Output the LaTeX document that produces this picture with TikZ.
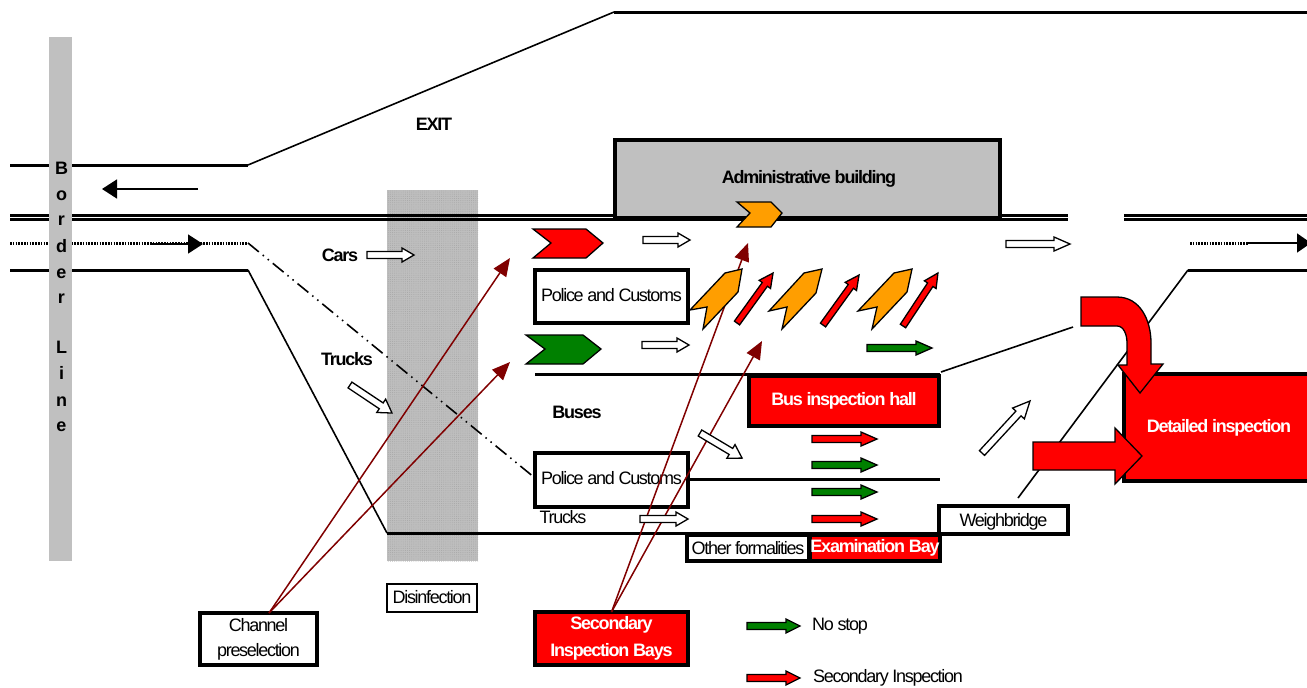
\documentclass[tikz,border=0pt]{standalone}
\usepackage{xcolor}
\usepackage{fontspec}
\setmainfont{Liberation Sans}[LetterSpace=-7.2,BoldFeatures={LetterSpace=-6.8}]
\newfontfamily\borderfont{Liberation Sans}
\usepackage{tikz}
\usetikzlibrary{arrows.meta,patterns.meta}

\definecolor{bordergray}{HTML}{C0C0C0}
\definecolor{disinfgray}{HTML}{BEBEBE}
\definecolor{bayorange}{HTML}{FF9E00}
\definecolor{leadred}{HTML}{800000}
\definecolor{passgreen}{HTML}{008000}

\def\px{.75pt}

\tikzset{
    road/.style={line width=3*\px},
    thinroad/.style={line width=1.6*\px},
    label/.style={font=\fontsize{13.5pt}{16pt}\selectfont, inner sep=0pt},
    boldlabel/.style={label, font=\fontsize{13.5pt}{16pt}\selectfont\bfseries},
    framebox/.style={draw, line width=4*\px, fill=white, outer sep=0pt, inner sep=0pt, align=center, font=\fontsize{13.5pt}{18.5pt}\selectfont},
    redbox/.style={framebox, fill=red, text=white, font=\fontsize{13.5pt}{20pt}\selectfont\bfseries},
    lead/.style={draw=leadred, line width=1.5*\px, -{Triangle[length=18*\px,width=15*\px]}},
    blocktip/.style={draw, line width=1.3*\px},
    chevron/.style={draw, line width=1.3*\px, line join=miter},
    pics/blockarr/.style args={#1/#2/#3/#4}{code={
        \path[pic actions] (0,-#2) -- ({#1-#3},-#2) -- ({#1-#3},-#4) -- (#1,0)
            -- ({#1-#3},#4) -- ({#1-#3},#2) -- (0,#2) -- cycle;
    }},
}

\begin{document}
\begin{tikzpicture}[x=\px, y=-\px]
    \useasboundingbox (0,0) rectangle (1307,687);

    % Disinfection strip
    \fill[disinfgray] (387,190) rectangle (478,561);
    \path[pattern={Dots[distance=1.6pt,radius=.35pt]}, pattern color=black!35] (387,190) rectangle (478,561);

    % Roads
    \draw[road] (10,165) -- (248,165);
    \draw[thinroad] (248,165) -- (614,12);
    \draw[road] (614,12) -- (1307,12);
    \draw[road] (10,215.5) -- (1068,215.5);
    \draw[road] (10,219.5) -- (1068,219.5);
    \draw[road] (1124,215.5) -- (1307,215.5);
    \draw[road] (1124,219.5) -- (1307,219.5);
    \draw[road] (10,270) -- (248,270);
    \draw[thinroad] (248,270) -- (387,533);
    \draw[road] (387,533) -- (938,533);
    \draw[road] (1188,270) -- (1307,270);
    \draw[thinroad] (1188,270) -- (1018,498);
    \draw[road] (535,374) -- (940,374);
    \draw[road] (690,479) -- (940,479);
    \draw[thinroad] (941,372) -- (1073,327);

    % Lanes
    \draw[road,dash pattern=on 1.2pt off .9pt] (10,243) -- (248,243);
    \draw[thinroad,dash pattern=on 14*\px off 5*\px on 1.5*\px off 5*\px on 1.5*\px off 5*\px] (248,243) -- (535,478);
    \draw[road,dash pattern=on 1.2pt off .9pt] (1190,243) -- (1248,243);
    \draw[thinroad,-{Triangle[length=14*\px,width=19*\px]}] (1248,243) -- (1311,243);
    \draw[thinroad,-{Triangle[length=15*\px,width=19*\px]}] (150,244) -- (203,244);
    \draw[thinroad,-{Triangle[length=15*\px,width=19*\px]}] (198,189) -- (102,189);

    % Border line
    \fill[bordergray] (49,37) rectangle (72,561);
    \foreach \ch/\yy in {B/174, o/200, r/225, d/252, e/278, r/303, L/353, i/379, n/406, e/431}
        \node[boldlabel, anchor=base, font=\borderfont\fontsize{13.5pt}{16pt}\selectfont\bfseries] at (61.5,\yy) {\ch};

    % Administrative building
    \node[framebox, fill=bordergray, minimum width=385*\px, minimum height=78*\px] (admin) at (807.5,178.5) {};
    \node[boldlabel] at (809,179) {Administrative building};

    % Labels
    \node[boldlabel] (exit) at (434,124) {EXIT};
    \node[boldlabel] (cars) at (340,255) {Cars};
    \node[boldlabel] (trucksup) at (347,359) {Trucks};
    \node[boldlabel] (buses) at (577,412) {Buses};
    \node[label] (truckslow) at (563,517) {Trucks};
    \node[label] (nostop) at (840,626) {No stop};
    \node[label] (secinsp) at (888,678) {Secondary Inspection};

    % Boxes
    \node[framebox, minimum width=153*\px, minimum height=53*\px] (policeup) at (611.5,296.5) {\raisebox{1.6pt}{Police and Customs}};
    \node[framebox, minimum width=153*\px, minimum height=54*\px] (policelow) at (611.5,479.5) {\raisebox{1.6pt}{Police and Customs}};
    \node[redbox, minimum width=190*\px, minimum height=50*\px] (bushall) at (844,401) {Bus inspection hall};
    \node[redbox, minimum width=190*\px, minimum height=107*\px] (detailed) at (1219,427.5) {\raisebox{.8pt}{Detailed inspection}};
    \node[framebox, text depth=0pt, minimum width=129*\px, minimum height=28*\px] (weigh) at (1003.5,520) {Weighbridge};
    \node[framebox, minimum width=122*\px, minimum height=26*\px] (other) at (748,548) {Other formalities};
    \node[redbox, minimum width=129*\px, minimum height=26*\px] (exam) at (875,548) {Examination Bay};
    \node[framebox, line width=2.5*\px, minimum width=90*\px, minimum height=28*\px] (disinf) at (432,598) {\raisebox{1.8pt}{Disinfection}};
    \node[framebox, minimum width=117*\px, minimum height=52*\px] (channel) at (258.5,639) {\raisebox{2.5pt}{Channel}\\\raisebox{2.5pt}{preselection}};
    \node[redbox, minimum width=153*\px, minimum height=53*\px] (secbays) at (611.5,638.5) {Secondary\\Inspection Bays};

    % Leaders
    \coordinate (carlane) at (510,258);
    \coordinate (trucklane) at (510,362);
    \coordinate (adminbay) at (748,243);
    \coordinate (busbay) at (762,341);
    \draw[lead] (channel.68) -- (carlane);
    \draw[lead] (channel.68) -- (trucklane);
    \draw[lead] (secbays.north) -- (adminbay);
    \draw[lead] (secbays.north) -- (busbay);

    % Chevrons
    \filldraw[chevron, fill=red] (533,229) -- (586,229) -- (603,243) -- (586,258) -- (533,258) -- (551,243) -- cycle;
    \filldraw[chevron, fill=passgreen] (526,335) -- (583,335) -- (601,349) -- (583,364) -- (526,364) -- (545,349) -- cycle;
    \filldraw[chevron, fill=bayorange] (737,202) -- (771,202) -- (782,213) -- (771,227) -- (737,227) -- (750,213) -- cycle;
    \filldraw[chevron, fill=bayorange] (690,310) -- (725,273) -- (742,269) -- (738,292) -- (703,329) -- (707,307) -- cycle;
    \filldraw[chevron, fill=bayorange] (769,311) -- (804,273) -- (822,269) -- (816,293) -- (782,329) -- (787,307) -- cycle;
    \filldraw[chevron, fill=bayorange] (858,311) -- (894,273) -- (912,269) -- (907,292) -- (872,329) -- (877,307) -- cycle;

    % White arrows
    \pic[blocktip, fill=white] at (367,255) {blockarr={47/3.5/12/7}};
    \pic[blocktip, fill=white] at (643,240) {blockarr={47/3.5/12/7}};
    \pic[blocktip, fill=white] at (642,345) {blockarr={47/3.5/12/7}};
    \pic[blocktip, fill=white] at (640,519) {blockarr={48/3.5/12/7}};
    \pic[blocktip, fill=white] at (1006,244) {blockarr={64/3.5/16/7}};
    \pic[blocktip, fill=white, rotate=-33.7] at (350,385) {blockarr={50.5/3.5/13/8}};
    \pic[blocktip, fill=white, rotate=-30.8] at (700,433) {blockarr={49/3.5/13/8}};
    \pic[blocktip, fill=white, rotate=47.3] at (982,453) {blockarr={70.8/3.5/17/8}};

    % Green and red arrows
    \pic[blocktip, fill=passgreen] at (867,348) {blockarr={65/3.5/16/7}};
    \pic[blocktip, fill=red] at (812,439) {blockarr={65/3.5/16/7}};
    \pic[blocktip, fill=passgreen] at (812,465) {blockarr={65/3.5/16/7}};
    \pic[blocktip, fill=passgreen] at (812,492) {blockarr={65/3.5/16/7}};
    \pic[blocktip, fill=red] at (812,519) {blockarr={65/3.5/16/7}};
    \pic[blocktip, fill=passgreen] at (747,626) {blockarr={53/3.5/14/7}};
    \pic[blocktip, fill=red] at (747,678) {blockarr={53/3.5/14/7}};
    \pic[blocktip, fill=red, rotate=54.2] at (737,323) {blockarr={61.6/3.2/14/7}};
    \pic[blocktip, fill=red, rotate=54.2] at (823,325) {blockarr={61.6/3.2/14/7}};
    \pic[blocktip, fill=red, rotate=56.6] at (903,326) {blockarr={63.5/3.2/14/7}};

    % Big red arrows
    \filldraw[chevron, fill=red] (1081,297) -- (1117,297) .. controls (1140,297) and (1151,320) .. (1151,343)
        -- (1151,364) -- (1163,364) -- (1140,393) -- (1118,365) -- (1127,365) -- (1127,343)
        .. controls (1127,335) and (1124,326) .. (1117,326) -- (1081,326) -- cycle;
    \pic[chevron, fill=red] at (1033,456) {blockarr={109/14/27/28}};
\end{tikzpicture}
\end{document}
